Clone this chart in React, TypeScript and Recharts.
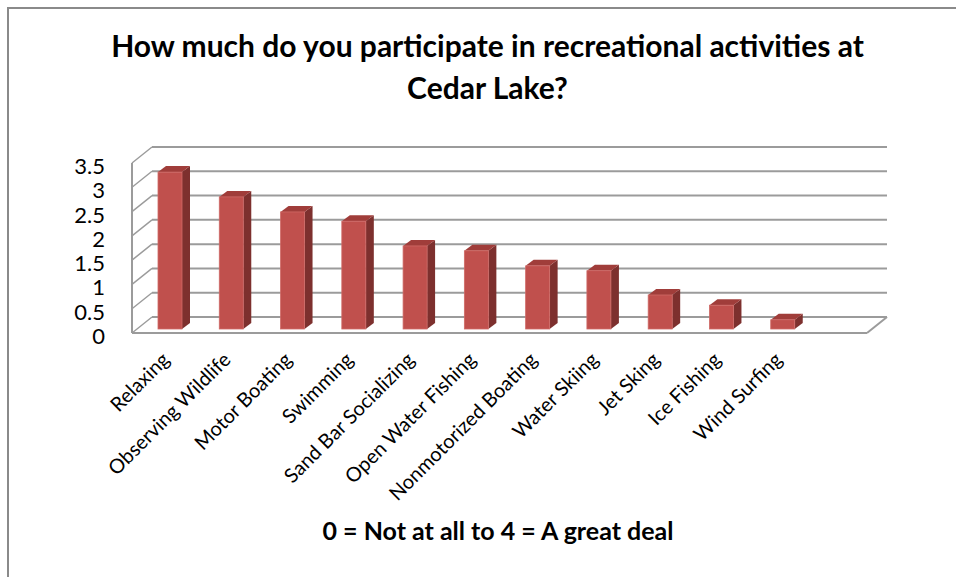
import {
  Bar,
  BarChart,
  CartesianGrid,
  XAxis,
  YAxis,
} from "recharts";

const categories = [
  "Relaxing",
  "Observing Wildlife",
  "Motor Boating",
  "Swimming",
  "Sand Bar Socializing",
  "Open Water Fishing",
  "Nonmotorized Boating",
  "Water Skiing",
  "Jet Sking",
  "Ice Fishing",
  "Wind Surfing",
];
const scores = [3.23, 2.72, 2.41, 2.22, 1.71, 1.61, 1.3, 1.2, 0.7, 0.49, 0.19];
const yTicks = [0, 0.5, 1, 1.5, 2, 2.5, 3, 3.5];

const FONT = "Lato, 'Open Sans', sans-serif";
const GRID = "#9b9b9b";
// 3d depth of the walls relative to the bar plane
const FRONT_DX = -5;
const FRONT_DY = 4;
const BACK_DX = 15;
const BACK_DY = -12;
// depth of each column
const BAR_DX = 8;
const BAR_DY = 6;

const data = categories.map((name, i) => ({ name, score: scores[i] }));

function Column(props: any) {
  const { x, y, width, height } = props;
  if (height <= 0) return null;
  const r = x + width;
  const b = y + height;
  return (
    <g>
      <polygon
        points={`${r},${y} ${r + BAR_DX},${y - BAR_DY} ${r + BAR_DX},${b - BAR_DY} ${r},${b}`}
        fill="#7d302e"
      />
      <polygon
        points={`${x},${y} ${x + BAR_DX},${y - BAR_DY} ${r + BAR_DX},${y - BAR_DY} ${r},${y}`}
        fill="#a03d3a"
      />
      <rect x={x} y={y} width={width} height={height} fill="#c0504d" stroke="#cf6a67" strokeWidth={0.8} />
    </g>
  );
}

// back wall line + left wall diagonal for every y tick; the floor and the
// left wall edge are added on the bottom line
function GridLine(props: any) {
  const { x1, x2, y1, index, y, height } = props;
  const bottom = typeof y === "number" && typeof height === "number" ? Math.abs(y1 - (y + height)) < 1 : index === 0;
  const fx = x1 + FRONT_DX;
  const fr = x2 + FRONT_DX;
  const fb = y1 + FRONT_DY;
  return (
    <g key={`gl-${index}`}>
      <line
        x1={x1 + BACK_DX}
        x2={x2 + BACK_DX}
        y1={y1 + BACK_DY}
        y2={y1 + BACK_DY}
        stroke={GRID}
        strokeWidth={2}
      />
      <line x1={fx} x2={x1 + BACK_DX} y1={fb} y2={y1 + BACK_DY} stroke={GRID} strokeWidth={1.5} />
      {bottom && (
        <g>
          <line x1={fx} x2={fx} y1={y + FRONT_DY} y2={fb} stroke={GRID} strokeWidth={2} />
          <line x1={fx} x2={fr} y1={fb} y2={fb} stroke={GRID} strokeWidth={2} />
          <line x1={fr} x2={x2 + BACK_DX} y1={fb} y2={y1 + BACK_DY} stroke={GRID} strokeWidth={2} />
        </g>
      )}
    </g>
  );
}

function CategoryTick(props: any) {
  const { x, y, payload } = props;
  const ax = x + 1;
  const ay = y + 32;
  return (
    <text
      x={ax}
      y={ay}
      textAnchor="end"
      transform={`rotate(-45, ${ax}, ${ay})`}
      fontFamily={FONT}
      fontSize={20}
      fill="#000"
    >
      {payload.value}
    </text>
  );
}

function ValueTick(props: any) {
  const { x, y, payload } = props;
  return (
    <text x={x - 32} y={y + 15} textAnchor="end" fontFamily={FONT} fontSize={22} fill="#000">
      {payload.value}
    </text>
  );
}

export default function App() {
  return (
    <div
      style={{
        position: "absolute",
        left: 0,
        top: 0,
        width: 956,
        height: 577,
        background: "#fff",
        overflow: "hidden",
      }}
    >
      <div
        style={{
          position: "absolute",
          left: 7,
          top: 7,
          width: 980,
          height: 600,
          borderLeft: "2px solid #8a8a8a",
          borderTop: "2px solid #8a8a8a",
        }}
      />
      <div
        style={{
          position: "absolute",
          left: 0,
          top: 24,
          width: 975,
          textAlign: "center",
          fontFamily: FONT,
          fontWeight: 700,
          fontSize: 30,
          lineHeight: "42px",
        }}
      >
        How much do you participate in recreational activities at
        <br />
        Cedar Lake?
      </div>
      <div
        style={{
          position: "absolute",
          left: 0,
          top: 515,
          width: 996,
          textAlign: "center",
          fontFamily: FONT,
          fontWeight: 700,
          fontSize: 25,
          lineHeight: "30px",
        }}
      >
        0 = Not at all to 4 = A great deal
      </div>
      <div style={{ position: "absolute", left: 0, top: 0 }}>
        <BarChart
          width={956}
          height={577}
          data={data}
          margin={{ top: 159, right: 84, bottom: 218, left: 77 }}
        >
          <CartesianGrid vertical={false} horizontal={GridLine} />
          <XAxis
            dataKey="name"
            interval={0}
            axisLine={false}
            tickLine={false}
            tickSize={0}
            tickMargin={0}
            height={30}
            padding={{ left: 2, right: 59 }}
            tick={CategoryTick}
          />
          <YAxis
            domain={[0, 3.5]}
            ticks={yTicks}
            width={60}
            axisLine={false}
            tickLine={false}
            tickSize={0}
            tickMargin={0}
            tick={ValueTick}
          />
          <Bar dataKey="score" barSize={24} shape={Column} isAnimationActive={false} />
        </BarChart>
      </div>
    </div>
  );
}
